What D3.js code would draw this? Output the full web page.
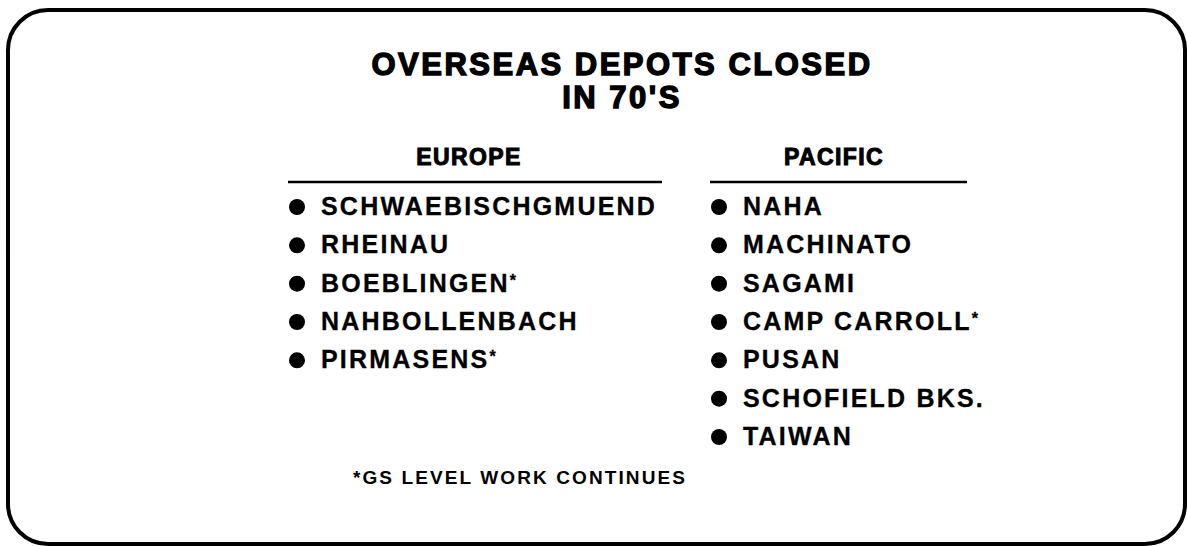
<!DOCTYPE html>
<html>
<head>
<meta charset="utf-8">
<script src="https://cdn.jsdelivr.net/npm/d3@7.9.0/dist/d3.min.js"></script>
<style>
  body { margin: 0; background: #fff; }
  svg text { font-family: "Liberation Sans", Arial, sans-serif; font-weight: bold; fill: #000; }
</style>
</head>
<body>
<div id="slide"></div>
<script>
// slide content
const titleLines = ["OVERSEAS DEPOTS CLOSED", "IN 70'S"];
const regions = ["EUROPE", "PACIFIC"];
const europeDepots = ["SCHWAEBISCHGMUEND", "RHEINAU", "BOEBLINGEN*", "NAHBOLLENBACH", "PIRMASENS*"];
const pacificDepots = ["NAHA", "MACHINATO", "SAGAMI", "CAMP CARROLL*", "PUSAN", "SCHOFIELD BKS.", "TAIWAN"];
const footnote = "*GS LEVEL WORK CONTINUES";

var width = 1187, height = 546;

var svg = d3.select("#slide")
    .append("svg")
    .attr("width", width)
    .attr("height", height);

// rounded frame
svg.append("rect")
    .attr("x", 8).attr("y", 10)
    .attr("width", 1177).attr("height", 534)
    .attr("rx", 40).attr("ry", 40)
    .attr("fill", "none")
    .attr("stroke", "#000")
    .attr("stroke-width", 4);

// title, centred over the two columns
svg.selectAll(".title")
    .data(titleLines)
    .enter()
    .append("text")
    .attr("class", "title")
    .attr("x", 622)
    .attr("y", (d, i) => 75 + i * 33)
    .attr("text-anchor", "middle")
    .attr("font-size", 31)
    .attr("letter-spacing", 2.5)
    .attr("stroke", "#000")
    .attr("stroke-width", 1.4)
    .text(d => d);

// columns
var x = d3.scaleOrdinal()
    .domain(regions)
    .range([288, 710]);
var colWidth = {EUROPE: 374, PACIFIC: 257};
var headCenter = {EUROPE: 181, PACIFIC: 124};

// rows
var y = d3.scaleLinear()
    .domain([0, 6])
    .range([215, 445]);

var cols = [
    {region: "EUROPE", items: europeDepots},
    {region: "PACIFIC", items: pacificDepots}
];

var col = svg.selectAll(".col")
    .data(cols)
    .enter()
    .append("g")
    .attr("class", "col")
    .attr("transform", d => "translate(" + x(d.region) + ",0)");

col.append("text")
    .attr("x", d => headCenter[d.region])
    .attr("y", 165)
    .attr("text-anchor", "middle")
    .attr("font-size", 23)
    .attr("letter-spacing", 1.4)
    .attr("stroke", "#000")
    .attr("stroke-width", 1)
    .text(d => d.region);

col.append("line")
    .attr("x1", 0)
    .attr("x2", d => colWidth[d.region])
    .attr("y1", 182).attr("y2", 182)
    .attr("stroke", "#000")
    .attr("stroke-width", 2.5);

var rows = col.selectAll(".row")
    .data(d => d.items)
    .enter()
    .append("g")
    .attr("class", "row")
    .attr("transform", (d, i) => "translate(0," + y(i) + ")");

rows.append("circle")
    .attr("cx", 9)
    .attr("cy", -8)
    .attr("r", 8)
    .attr("fill", "#000");

rows.append("text")
    .attr("x", 33)
    .attr("y", 0)
    .attr("font-size", 25)
    .attr("letter-spacing", 2.2)
    .attr("stroke", "#000")
    .attr("stroke-width", 0.3)
    .text(d => d.replace("*", ""))
    .filter(d => d.endsWith("*"))
    .append("tspan")
    .attr("font-size", 16)
    .attr("dy", -6)
    .text("*");

// footnote
svg.append("text")
    .attr("x", 520)
    .attr("y", 484)
    .attr("text-anchor", "middle")
    .attr("font-size", 19)
    .attr("letter-spacing", 2.1)
    .text(footnote);
</script>
</body>
</html>
